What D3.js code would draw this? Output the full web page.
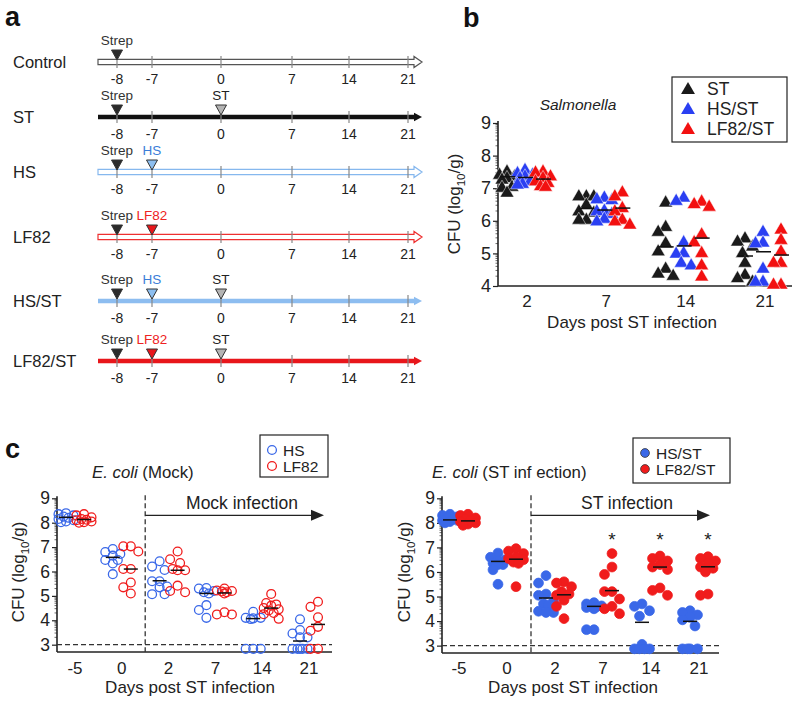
<!DOCTYPE html>
<html><head><meta charset="utf-8">
<script src="https://cdn.jsdelivr.net/npm/d3@7/dist/d3.min.js"></script>
<style>body{margin:0;background:#fff}svg{display:block}text{font-family:"Liberation Sans",Arial,sans-serif}</style>
</head><body><svg id="c" width="800" height="701"></svg>
<script>
// ---------- DATA ----------
// Panel a: timelines
const timelineDays = [-8, -7, 0, 7, 14, 21];
const rowNames = ["Control", "ST", "HS", "LF82", "HS/ST", "LF82/ST"];
const rowEvents = [["Strep"], ["Strep", "ST"], ["Strep", "HS"], ["Strep", "LF82"], ["Strep", "HS", "ST"], ["Strep", "LF82", "ST"]];
const eventDays = {Strep: -8, HS: -7, LF82: -7, ST: 0};

// Panel b: Salmonella CFU (log10/g)
const salDays = ["2", "7", "14", "21"];
const salGroups = ["ST", "HS/ST", "LF82/ST"];
const salST = [[6.85, 7.5, 7.25, 7.03, 7.35, 7.4, 7.3, 7.0], [6.74, 6.74, 6.74, 6.48, 6.28, 6.24, 6.02, 6.02], [6.55, 5.65, 5.8, 5.3, 5.05, 4.52, 4.3, 4.37], [5.45, 5.2, 5.35, 5.0, 4.7, 4.33, 4.12, 4.23]];
const salHSST = [[7.55, 7.4, 7.35, 7.2, 7.12, 7.1, 7.45, 7.3], [6.7, 6.65, 6.62, 6.28, 6.3, 5.97, 6.05, 6.2], [6.7, 6.6, 5.33, 5.0, 4.98, 4.62, 4.7], [5.65, 5.32, 5.3, 4.52, 4.12, 4.12]];
const salLFST = [[7.5, 7.35, 7.47, 7.15, 7.05, 7.03, 7.2, 7.3], [6.74, 6.86, 6.38, 6.28, 6.02, 5.87, 5.97], [6.5, 6.58, 6.42, 5.33, 5.57, 5.0, 4.62, 4.28], [5.72, 5.4, 5.05, 4.7, 4.7, 4.03, 4.03]];
const salMedST = [7.35, 6.38, 5.2, 4.92];
const salMedHSST = [7.33, 6.33, 5.23, 5.05];
const salMedLFST = [7.28, 6.39, 5.47, 4.95];
const salYTicks = [4, 5, 6, 7, 8, 9];

// Panel c: E. coli CFU (log10/g)
const ecoDays = ["-5", "0", "2", "7", "14", "21"];
const ecoYTicks = [3, 4, 5, 6, 7, 8, 9];
const mockHS = [[8.3, 8.39, 8.2, 8.15, 8.02, 8.05, 8.25, 8.1, 8.35], [6.92, 6.72, 6.8, 6.65, 6.47, 6.47, 6.33, 5.89], [6.2, 6.42, 6.06, 5.6, 5.6, 5.35, 5.38, 5.07, 5.07], [5.3, 5.32, 5.2, 5.15, 5.1, 4.62, 4.42, 4.1], [4.1, 4.05, 4.1, 4.35, 4.08, 2.83, 2.83, 2.83], [4.04, 3.6, 3.46, 3.3, 3.3, 2.83, 2.83, 2.83, 2.83, 2.83]];
const mockLF = [[8.35, 8.3, 8.22, 8.15, 8.1, 8.05, 8.0, 8.12, 8.02], [7.03, 7.03, 6.82, 6.1, 6.1, 5.55, 5.35, 5.1], [6.82, 6.5, 6.35, 6.05, 6.05, 6.1, 5.42, 5.15, 5.2], [5.2, 5.15, 5.3, 5.22, 5.18, 5.1, 4.33, 4.24, 4.24], [5.08, 4.71, 4.6, 4.65, 4.5, 4.45, 4.4, 4.3, 4.06, 4.25], [4.76, 4.55, 4.12, 3.73, 3.57, 2.83, 2.83]];
const mockMedHS = [8.22, 6.58, 5.62, 5.1, 4.07, 3.15];
const mockMedLF = [8.13, 6.1, 6.05, 5.12, 4.5, 3.83];
const stHS = [[8.3, 8.25, 8.2, 8.1, 8.05, 8.0, 8.15, 8.35, 8.1], [6.77, 6.6, 6.5, 6.45, 6.36, 6.3, 6.3, 6.09, 5.5], [5.85, 5.55, 5.1, 5.05, 4.8, 4.7, 4.65, 4.4, 4.35, 4.35], [4.75, 4.7, 4.62, 4.6, 4.58, 4.55, 4.5, 3.65, 3.65], [4.7, 4.6, 4.42, 4.2, 3.05, 2.87, 2.87, 2.87, 2.87], [4.42, 4.35, 4.25, 4.15, 4.05, 3.8, 2.87, 2.87, 2.87, 2.87]];
const stLF = [[8.35, 8.3, 8.2, 8.1, 8.0, 7.95, 7.9, 8.15, 8.05], [6.95, 6.85, 6.75, 6.6, 6.55, 6.5, 6.4, 6.35, 5.4], [5.6, 5.55, 5.4, 5.2, 5.1, 5.05, 4.85, 4.6, 4.1], [6.75, 6.2, 5.9, 5.2, 5.2, 4.9, 4.6, 4.5, 4.3], [6.65, 6.55, 6.45, 6.3, 6.2, 6.1, 5.35, 5.25, 5.05], [6.62, 6.55, 6.45, 6.35, 6.2, 6.15, 6.0, 5.1, 5.05]];
const stMedHS = [8.12, 6.43, 4.94, 4.6, 3.95, 3.99];
const stMedLF = [8.08, 6.52, 5.07, 5.24, 6.2, 6.21];
const stSignif = ["", "", "", "*", "*", "*"];
const detectionLimit = 3;

// ---------- HELPERS ----------
const svg = d3.select("#c");
const FONT = '"Liberation Sans",Arial,sans-serif';

// bounded beeswarm: offsets limited to +-maxOff, overlap allowed when crowded
function swarm(vals, yS, dist, step, maxOff) {
  const pts = [];
  const cands = [0];
  for (let o = step; o <= maxOff + 1e-9; o += step) { cands.push(-o, o); }
  vals.slice().sort((a, b) => b - a).forEach(v => {
    const py = yS(v);
    let best = null, bestD = -1;
    for (const off of cands) {
      const md = pts.length ? d3.min(pts, q => Math.hypot(q.dx - off, q.y - py)) : Infinity;
      if (md >= dist) { best = off; bestD = md; break; }
      if (md > bestD + 0.5) { bestD = md; best = off; }
    }
    pts.push({v, dx: best, y: py});
  });
  return pts;
}

function yAxis(g, y, ticks, x0, fs) {
  const ax = g.append("g").attr("transform", `translate(${x0},0)`)
    .call(d3.axisLeft(y).tickValues(ticks).tickSize(5).tickFormat(d3.format("d")));
  ax.select(".domain").remove();
  ax.selectAll(".tick line").attr("stroke", "#222").attr("stroke-width", 1.2);
  ax.selectAll(".tick text").attr("font-size", fs).attr("font-family", FONT).attr("fill", "#222").attr("x", -7);
  const minors = [];
  ticks.slice(0, -1).forEach(t => d3.range(2, 10).forEach(k => minors.push(t + Math.log10(k))));
  g.selectAll(null).data(minors).join("line")
    .attr("x1", x0 - 2.5).attr("x2", x0).attr("y1", d => y(d)).attr("y2", d => y(d))
    .attr("stroke", "#444").attr("stroke-width", 0.8);
  g.append("line").attr("x1", x0).attr("x2", x0).attr("y1", y.range()[0]).attr("y2", y(ticks[ticks.length - 1]) - 2)
    .attr("stroke", "#222").attr("stroke-width", 1.6);
}

function cfuLabel(g, x, y, fs) {
  const t = g.append("text").attr("transform", `translate(${x},${y}) rotate(-90)`)
    .attr("text-anchor", "middle").attr("font-size", fs).attr("fill", "#222");
  t.append("tspan").text("CFU (log");
  t.append("tspan").text("10").attr("font-size", fs * 0.68).attr("dy", fs * 0.3);
  t.append("tspan").text("/g)").attr("dy", -fs * 0.3);
}

// ---------- PANEL a ----------
const gA = svg.append("g");
gA.append("text").text("a").attr("x", 5).attr("y", 26).attr("font-size", 27).attr("font-weight", "bold").attr("fill", "#111");
const tlX = d3.scaleLinear().domain(timelineDays).range([117, 152, 221, 292, 349, 408]);
const rowY = d3.scaleLinear().domain(d3.range(rowNames.length)).range([62, 117, 172, 237, 301, 361]);
const rowStyle = {
  "Control": {type: "outline", color: "#555"},
  "ST": {type: "solid", color: "#111"},
  "HS": {type: "outline", color: "#86b8ee"},
  "LF82": {type: "outline", color: "#ee3030"},
  "HS/ST": {type: "solid", color: "#8dbdf0"},
  "LF82/ST": {type: "solid", color: "#e8161b"}
};
const evStyle = {
  Strep: {fill: "#2b2b2b", label: "#333"},
  ST: {fill: "#b4b4b4", label: "#222"},
  HS: {fill: "#8cbef0", label: "#3b7dd8"},
  LF82: {fill: "#e8161b", label: "#ee2222"}
};
const lineStart = 98, lineEnd = 414, tip = 422;
rowNames.forEach((name, i) => {
  const y = rowY(i), st = rowStyle[name];
  const g = gA.append("g");
  g.append("text").text(name).attr("x", 13).attr("y", y + 6).attr("font-size", 16.5).attr("fill", "#222");
  if (st.type === "outline") {
    g.append("path").attr("d", `M${lineStart},${y - 2.6}L${lineEnd},${y - 2.6}L${lineEnd},${y - 5.5}L${tip},${y}L${lineEnd},${y + 5.5}L${lineEnd},${y + 2.6}L${lineStart},${y + 2.6}Z`)
      .attr("fill", "#fff").attr("stroke", st.color).attr("stroke-width", 1.2);
  } else {
    g.append("line").attr("x1", lineStart).attr("x2", lineEnd + 1).attr("y1", y).attr("y2", y)
      .attr("stroke", st.color).attr("stroke-width", 4.5);
    g.append("path").attr("d", `M${lineEnd},${y - 4.2}L${tip},${y}L${lineEnd},${y + 4.2}Z`).attr("fill", st.color);
  }
  g.selectAll(null).data(timelineDays).join("line")
    .attr("x1", d => tlX(d)).attr("x2", d => tlX(d)).attr("y1", y - 6).attr("y2", y + 6)
    .attr("stroke", "#888").attr("stroke-width", 1.2);
  g.selectAll(null).data(timelineDays).join("text")
    .text(d => d).attr("x", d => tlX(d)).attr("y", y + 22).attr("text-anchor", "middle")
    .attr("font-size", 14).attr("fill", "#222");
  rowEvents[i].forEach(ev => {
    const x = tlX(eventDays[ev]), es = evStyle[ev];
    g.append("path").attr("d", `M${x - 5.5},${y - 12}L${x + 5.5},${y - 12}L${x},${y - 2}Z`)
      .attr("fill", es.fill).attr("stroke", "#333").attr("stroke-width", 1);
    g.append("text").text(ev).attr("x", x).attr("y", y - 17).attr("text-anchor", "middle")
      .attr("font-size", 13.5).attr("fill", es.label);
  });
});

// ---------- PANEL b ----------
const gB = svg.append("g");
gB.append("text").text("b").attr("x", 463).attr("y", 27).attr("font-size", 27).attr("font-weight", "bold").attr("fill", "#111");
const bY = d3.scaleLinear().domain([4, 9]).range([286, 123]);
const bX = d3.scalePoint().domain(salDays).range([527, 765]);
const bOff = d3.scalePoint().domain(salGroups).range([-20, 16]);
const bColor = {"ST": "#1a1a1a", "HS/ST": "#2a3ff2", "LF82/ST": "#f21010"};
const bData = {"ST": salST, "HS/ST": salHSST, "LF82/ST": salLFST};
const bMed = {"ST": salMedST, "HS/ST": salMedHSST, "LF82/ST": salMedLFST};
const tri = d3.symbol().type(d3.symbolTriangle).size(84);
yAxis(gB, bY, salYTicks, 498, 18);
gB.append("line").attr("x1", 498).attr("x2", 792).attr("y1", 286).attr("y2", 286).attr("stroke", "#222").attr("stroke-width", 1.6);
gB.selectAll(null).data(salDays).join("text").text(d => d).attr("x", d => bX(d)).attr("y", 307)
  .attr("text-anchor", "middle").attr("font-size", 17).attr("fill", "#222");
gB.append("text").text("Days post ST infection").attr("x", 632).attr("y", 328).attr("text-anchor", "middle").attr("font-size", 17).attr("fill", "#222");
cfuLabel(gB, 460, 204, 17);
gB.append("text").text("Salmonella").attr("x", 578).attr("y", 110).attr("text-anchor", "middle")
  .attr("font-size", 15.5).attr("font-style", "italic").attr("fill", "#222");
salGroups.forEach(grp => {
  salDays.forEach((d, di) => {
    const cx = bX(d) + bOff(grp);
    const pts = swarm(bData[grp][di], bY, 10, 2.5, 9);
    gB.selectAll(null).data(pts).join("path").attr("d", tri)
      .attr("transform", p => `translate(${cx + p.dx},${p.y})`)
      .attr("fill", bColor[grp]).attr("stroke", "#fff").attr("stroke-width", 0.5);
  });
});
salGroups.forEach(grp => {
  salDays.forEach((d, di) => {
    const cx = bX(d) + bOff(grp), yy = bY(bMed[grp][di]);
    gB.append("line").attr("x1", cx - 7).attr("x2", cx + 8).attr("y1", yy).attr("y2", yy).attr("stroke", "#111").attr("stroke-width", 1.5);
  });
});
gB.append("rect").attr("x", 672).attr("y", 77).attr("width", 115).attr("height", 65).attr("fill", "#fff").attr("stroke", "#222").attr("stroke-width", 1.2);
salGroups.forEach((grp, i) => {
  const ly = 89 + i * 20;
  gB.append("path").attr("d", tri).attr("transform", `translate(688,${ly + 1})`).attr("fill", bColor[grp]);
  gB.append("text").text(grp).attr("x", 707).attr("y", ly + 6).attr("font-size", 17.5).attr("fill", "#222");
});

// ---------- PANEL c ----------
function ecoPanel(cfg) {
  const g = svg.append("g");
  const y = d3.scaleLinear().domain([2.7, 9]).range([cfg.bottom, cfg.top9]);
  const x = d3.scalePoint().domain(ecoDays).range(cfg.xr);
  yAxis(g, y, ecoYTicks, cfg.x0, 17.5);
  g.append("line").attr("x1", cfg.x0).attr("x2", cfg.x1).attr("y1", cfg.bottom).attr("y2", cfg.bottom).attr("stroke", "#222").attr("stroke-width", 1.6);
  g.append("line").attr("x1", cfg.x0).attr("x2", cfg.x1).attr("y1", y(detectionLimit)).attr("y2", y(detectionLimit))
    .attr("stroke", "#333").attr("stroke-width", 1.3).attr("stroke-dasharray", "5,3");
  const xv = (x("0") + x("2")) / 2;
  g.append("line").attr("x1", xv).attr("x2", xv).attr("y1", y(9) - 3).attr("y2", cfg.bottom)
    .attr("stroke", "#333").attr("stroke-width", 1.3).attr("stroke-dasharray", "5,3");
  const ay = y(9) + 17;
  g.append("line").attr("x1", xv).attr("x2", cfg.arrowEnd - 11).attr("y1", ay).attr("y2", ay).attr("stroke", "#222").attr("stroke-width", 1.3);
  g.append("path").attr("d", `M${cfg.arrowEnd - 13},${ay - 5.5}L${cfg.arrowEnd},${ay}L${cfg.arrowEnd - 13},${ay + 5.5}Z`).attr("fill", "#222");
  g.append("text").text(cfg.arrowText).attr("x", cfg.arrowTextX).attr("y", ay - 6).attr("text-anchor", "middle").attr("font-size", 17.5).attr("fill", "#222");
  g.selectAll(null).data(ecoDays).join("text").text(d => d).attr("x", d => x(d)).attr("y", 674)
    .attr("text-anchor", "middle").attr("font-size", 17).attr("fill", "#222");
  g.append("text").text("Days post ST infection").attr("x", cfg.xLabelX).attr("y", 693).attr("text-anchor", "middle").attr("font-size", 17).attr("fill", "#222");
  cfuLabel(g, cfg.yLabelX, 572, 17);
  const t = g.append("text").attr("x", cfg.titleX).attr("y", 478).attr("font-size", 16.8).attr("fill", "#222");
  t.append("tspan").text("E. coli").attr("font-style", "italic");
  t.append("tspan").text(cfg.titleRest);
  const groups = [{vals: cfg.hs, color: "#3a68e8", off: -9}, {vals: cfg.lf, color: "#f01c1c", off: 9}];
  groups.forEach(gr => {
    ecoDays.forEach((d, di) => {
      const cx = x(d) + gr.off;
      const pts = swarm(gr.vals[di], y, 9.5, 2.5, 8);
      g.selectAll(null).data(pts).join("circle")
        .attr("cx", p => cx + p.dx).attr("cy", p => p.y).attr("r", cfg.filled ? 4.9 : 4.4)
        .attr("fill", cfg.filled ? gr.color : "none").attr("stroke", gr.color).attr("stroke-width", cfg.filled ? 0.8 : 1.3);
    });
  });
  [{m: cfg.medHS, off: -9}, {m: cfg.medLF, off: 9}].forEach(md => {
    ecoDays.forEach((d, di) => {
      const cx = x(d) + md.off, yy = y(md.m[di]);
      g.append("line").attr("x1", cx - 7).attr("x2", cx + 7).attr("y1", yy).attr("y2", yy).attr("stroke", "#111").attr("stroke-width", 1.5);
    });
  });
  if (cfg.sig) {
    g.selectAll(null).data(ecoDays.filter((d, i) => cfg.sig[i])).join("text")
      .text(d => cfg.sig[ecoDays.indexOf(d)]).attr("x", d => x(d) + 9).attr("y", 546)
      .attr("text-anchor", "middle").attr("font-size", 19).attr("fill", "#222");
  }
  const L = cfg.legend;
  g.append("rect").attr("x", L.x).attr("y", L.y).attr("width", L.w).attr("height", L.h).attr("fill", "#fff").attr("stroke", "#222").attr("stroke-width", 1.2);
  L.names.forEach((nm, i) => {
    const ly = L.y + 15 + i * 16;
    const col = groups[i].color;
    g.append("circle").attr("cx", L.x + 12).attr("cy", ly).attr("r", 4.4)
      .attr("fill", cfg.filled ? col : "none").attr("stroke", cfg.filled ? "#333" : col).attr("stroke-width", cfg.filled ? 0.8 : 1.3);
    g.append("text").text(nm).attr("x", L.x + 23).attr("y", ly + 5.5).attr("font-size", 15.5).attr("fill", "#222");
  });
  return g;
}

svg.append("text").text("c").attr("x", 5).attr("y", 458).attr("font-size", 27).attr("font-weight", "bold").attr("fill", "#111");

ecoPanel({x0: 57, x1: 332, bottom: 652, top9: 498.3, xr: [75, 309], arrowEnd: 324, arrowText: "Mock infection", arrowTextX: 242,
  xLabelX: 190, yLabelX: 24, titleX: 92, titleRest: " (Mock)", hs: mockHS, lf: mockLF, medHS: mockMedHS, medLF: mockMedLF,
  filled: false, legend: {x: 260, y: 435, w: 68, h: 42, names: ["HS", "LF82"]}});

ecoPanel({x0: 442, x1: 719, bottom: 653, top9: 498.3, xr: [459, 699], arrowEnd: 710, arrowText: "ST infection", arrowTextX: 627,
  xLabelX: 573, yLabelX: 410, titleX: 432, titleRest: "   (ST inf ection)", hs: stHS, lf: stLF, medHS: stMedHS, medLF: stMedLF,
  filled: true, sig: stSignif, legend: {x: 633, y: 438, w: 97, h: 45, names: ["HS/ST", "LF82/ST"]}});
</script></body></html>
